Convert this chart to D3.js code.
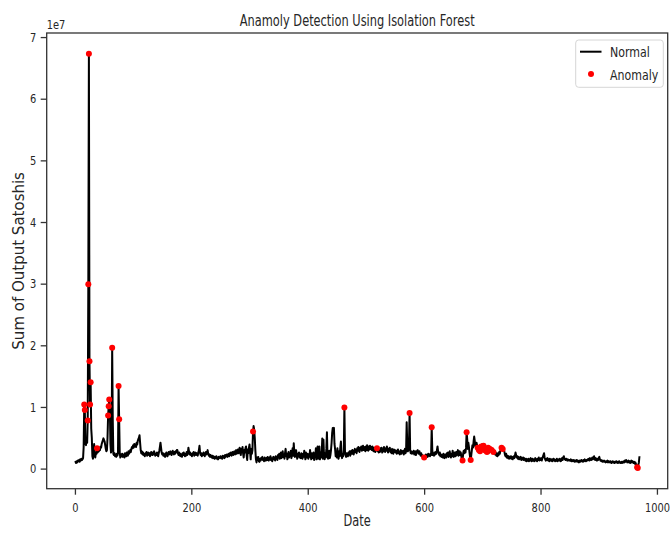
<!DOCTYPE html>
<html>
<head>
<meta charset="utf-8">
<script src="https://cdn.jsdelivr.net/npm/d3@7"></script>
<style>
  html, body { margin: 0; padding: 0; background: #fff; }
  svg text { font-family: "DejaVu Sans", sans-serif; fill: #262626; }
</style>
</head>
<body>
<svg id="chart" width="670" height="538"></svg>
<script>
// ---------------- DATA ----------------
// Sum of output satoshis per day, in millions (x 1e6); day index = position
const values = [
  1.0, 1.1, 0.9, 1.2, 1.0, 1.3, 1.2, 1.4, 1.1, 1.5,
  1.3, 1.6, 1.4, 1.5, 1.7, 3.5, 10.4, 9.5, 4.0, 3.8,
  5.0, 4.2, 7.8, 29.9, 67.3, 17.4, 10.4, 14.0, 6.5, 5.0,
  2.0, 1.6, 2.5, 4.0, 2.2, 1.8, 2.6, 2.4, 3.3, 2.6,
  3.0, 2.8, 3.2, 3.0, 3.6, 3.4, 4.0, 4.3, 4.6, 4.9,
  4.6, 4.4, 3.8, 3.2, 2.8, 3.0, 5.0, 8.6, 10.1, 11.2,
  9.8, 4.0, 2.6, 3.0, 19.6, 8.0, 2.4, 2.2, 2.5, 2.0,
  2.3, 1.9, 2.4, 2.1, 2.6, 13.4, 8.0, 2.5, 1.8, 2.2,
  2.0, 2.4, 1.9, 2.3, 2.1, 1.8, 2.5, 2.2, 2.0, 2.6,
  2.3, 2.1, 2.8, 2.4, 2.6, 3.0, 2.7, 3.2, 3.5, 3.3,
  3.8, 3.4, 4.0, 3.6, 3.9, 3.5, 4.2, 3.9, 4.5, 4.8,
  5.0, 5.4, 4.2, 3.0, 2.5, 2.8, 2.3, 2.6, 2.2, 2.4,
  2.0, 2.5, 2.3, 2.7, 2.1, 2.4, 2.6, 2.2, 2.5, 2.0,
  2.3, 2.7, 2.4, 2.2, 2.6, 2.3, 2.8, 2.5, 2.1, 2.4,
  2.2, 2.6, 2.3, 2.0, 2.5, 2.9, 3.5, 4.2, 3.4, 2.6,
  2.3, 2.5, 2.1, 2.4, 2.2, 1.9, 2.3, 2.6, 2.2, 2.0,
  2.4, 2.7, 2.3, 2.5, 2.8, 2.4, 2.2, 2.6, 2.9, 2.5,
  2.3, 2.7, 2.4, 2.8, 2.6, 3.0, 3.0, 2.5, 2.2, 2.6,
  2.1, 2.4, 2.0, 2.3, 1.9, 2.5, 2.2, 2.6, 2.3, 2.0,
  2.4, 2.1, 2.7, 2.2, 2.5, 3.4, 2.8, 2.3, 2.6, 2.2,
  2.4, 2.0, 2.5, 2.3, 2.7, 2.1, 2.4, 2.6, 2.2, 2.5,
  2.3, 2.1, 2.6, 3.0, 3.7, 2.6, 2.2, 2.5, 2.0, 2.4,
  2.2, 2.6, 2.3, 2.0, 2.4, 2.7, 2.3, 2.5, 3.0, 2.4,
  2.1, 2.3, 1.9, 2.2, 2.0, 1.8, 2.1, 1.7, 2.0, 1.8,
  1.6, 1.9, 1.7, 2.0, 1.6, 1.8, 1.5, 1.9, 1.7, 1.8,
  2.0, 1.7, 1.9, 1.6, 2.1, 1.8, 2.0, 1.7, 2.2, 1.9,
  2.1, 2.3, 1.9, 2.2, 2.4, 2.0, 2.5, 2.2, 2.6, 2.1,
  2.4, 2.7, 2.2, 2.5, 2.8, 2.3, 2.6, 3.0, 2.4, 2.7,
  3.1, 2.5, 2.9, 3.4, 2.6, 2.2, 3.2, 2.8, 3.5, 2.4,
  1.8, 3.0, 2.6, 3.3, 3.6, 2.2, 1.4, 3.1, 2.5, 3.4,
  3.9, 2.6, 1.5, 3.2, 2.4, 3.0, 6.0, 6.9, 6.3, 5.0,
  3.0, 1.5, 1.0, 1.8, 1.4, 1.9, 1.2, 1.1, 1.6, 1.3,
  1.7, 1.5, 1.9, 1.4, 1.6, 1.2, 1.8, 1.5, 1.3, 1.7,
  1.4, 1.9, 1.6, 1.3, 1.8, 1.5, 2.0, 1.4, 1.7, 1.2,
  1.6, 1.9, 1.5, 1.8, 1.3, 2.0, 1.6, 1.9, 1.4, 2.2,
  1.8, 2.4, 1.6, 2.0, 2.6, 1.7, 2.2, 2.8, 1.9, 2.3,
  1.6, 2.5, 3.2, 2.0, 2.4, 1.5, 2.2, 2.7, 1.8, 2.3,
  2.0, 2.9, 1.7, 2.4, 3.3, 2.1, 4.1, 2.6, 1.9, 2.5,
  3.0, 2.2, 1.6, 2.4, 2.0, 2.6, 1.8, 2.3, 1.7, 2.5,
  2.1, 1.6, 2.4, 1.9, 2.9, 2.2, 1.5, 2.6, 2.0, 1.8,
  2.4, 1.6, 2.2, 1.9, 3.0, 2.1, 1.5, 2.5, 2.0, 1.7,
  2.6, 1.4, 2.3, 1.9, 3.3, 1.5, 2.4, 3.6, 1.6, 2.2,
  3.6, 1.5, 2.6, 1.8, 2.4, 4.9, 1.6, 4.7, 2.0, 1.5,
  2.5, 1.8, 3.2, 5.9, 2.0, 1.6, 2.4, 2.9, 1.7, 2.2,
  3.0, 4.2, 5.8, 6.6, 6.4, 6.6, 4.0, 3.2, 2.0, 2.6,
  1.8, 3.3, 2.2, 1.6, 2.8, 2.0, 3.4, 4.4, 2.3, 1.7,
  2.4, 2.0, 3.0, 9.9, 2.8, 2.2, 1.9, 2.5, 2.2, 2.0,
  2.6, 2.3, 2.8, 2.1, 2.5, 2.9, 2.4, 3.0, 2.6, 2.3,
  2.8, 3.2, 2.7, 3.0, 2.5, 3.3, 2.9, 3.5, 3.0, 2.7,
  3.4, 3.1, 3.6, 2.9, 3.3, 3.7, 3.0, 3.5, 3.2, 2.8,
  3.6, 3.0, 3.8, 3.3, 2.9, 3.6, 3.1, 3.7, 3.2, 3.5,
  3.0, 3.6, 3.3, 2.8, 3.4, 3.1, 2.7, 3.2, 3.0, 3.3,
  2.8, 3.1, 2.6, 3.0, 2.7, 3.3, 2.9, 3.4, 2.6, 3.1,
  2.8, 3.5, 3.0, 2.7, 3.3, 2.9, 3.6, 3.1, 2.6, 3.2,
  2.9, 3.4, 2.7, 3.0, 2.5, 3.2, 2.8, 2.4, 3.1, 2.7,
  3.0, 2.6, 2.9, 2.4, 2.8, 3.1, 2.5, 2.8, 2.3, 2.7,
  3.0, 2.4, 2.8, 2.6, 2.9, 2.3, 2.7, 3.2, 2.5, 2.8,
  7.5, 4.0, 2.8, 3.0, 4.0, 9.0, 3.0, 2.5, 2.8, 2.4,
  2.7, 2.5, 2.9, 2.3, 2.6, 2.8, 2.2, 2.5, 2.9, 3.0,
  2.6, 2.4, 2.8, 2.3, 2.1, 2.5, 2.0, 2.2, 1.9, 1.8,
  1.8, 2.1, 1.9, 2.3, 2.0, 2.2, 1.9, 2.4, 2.1, 2.3,
  2.0, 2.4, 2.2, 6.7, 3.0, 2.2, 2.5, 2.1, 2.6, 2.3,
  2.7, 2.4, 3.0, 3.6, 2.8, 2.5, 2.2, 2.6, 2.0, 2.3,
  1.9, 2.2, 1.8, 2.4, 2.0, 1.7, 2.3, 2.1, 1.8, 2.5,
  2.0, 2.6, 1.9, 2.3, 2.8, 2.1, 1.8, 2.4, 2.0, 2.9,
  2.2, 1.9, 2.6, 2.3, 2.0, 2.7, 2.2, 2.5, 3.0, 2.1,
  2.4, 2.8, 2.2, 2.6, 1.9, 1.6, 1.3, 2.4, 2.9, 2.5,
  3.0, 2.6, 3.4, 5.9, 4.8, 3.2, 4.2, 3.5, 2.6, 1.8,
  1.4, 2.2, 3.0, 3.8, 3.4, 4.4, 5.2, 4.5, 3.6, 4.0,
  4.2, 3.8, 3.4, 3.6, 3.0, 3.3, 2.8, 3.2, 3.6, 3.9,
  3.5, 3.1, 3.7, 3.4, 3.0, 3.5, 2.9, 3.3, 2.7, 3.1,
  3.4, 3.0, 2.6, 3.2, 2.8, 3.4, 3.0, 2.6, 3.1, 2.7,
  2.5, 2.9, 2.3, 2.6, 2.1, 2.4, 2.0, 2.5, 2.2, 2.7,
  2.4, 2.9, 3.1, 3.4, 3.3, 3.2, 3.0, 3.1, 2.7, 2.2,
  2.0, 2.4, 1.8, 2.1, 1.7, 2.0, 1.6, 1.9, 1.7, 2.0,
  1.6, 1.9, 1.5, 1.8, 2.0, 1.7, 2.1, 2.6, 2.2, 1.8,
  2.0, 1.6, 1.9, 1.5, 1.8, 1.6, 1.9, 1.4, 1.7, 1.5,
  1.8, 1.4, 1.7, 1.5, 1.3, 1.6, 1.2, 1.5, 1.3, 1.6,
  1.2, 1.5, 1.3, 1.7, 1.4, 1.2, 1.6, 1.3, 1.5, 1.2,
  1.4, 1.7, 1.3, 1.5, 1.2, 1.6, 1.4, 1.8, 1.3, 1.5,
  1.4, 1.7, 1.3, 1.6, 1.9, 2.2, 2.5, 1.8, 1.5, 1.3,
  1.6, 1.4, 1.7, 1.3, 1.5, 1.2, 1.6, 1.4, 1.3, 1.5,
  1.2, 1.4, 1.6, 1.3, 1.5, 1.2, 1.4, 1.3, 1.6, 1.2,
  1.4, 1.5, 1.3, 1.6, 1.4, 1.2, 1.5, 1.7, 1.4, 1.8,
  2.0, 1.7, 1.5, 1.4, 1.6, 1.5, 1.3, 1.5, 1.4, 1.3,
  1.4, 1.3, 1.5, 1.2, 1.4, 1.3, 1.2, 1.4, 1.3, 1.1,
  1.3, 1.2, 1.4, 1.1, 1.3, 1.2, 1.0, 1.3, 1.1, 1.2,
  1.4, 1.2, 1.3, 1.1, 1.4, 1.2, 1.5, 1.3, 1.2, 1.4,
  1.3, 1.5, 1.4, 1.6, 1.3, 1.7, 1.5, 1.4, 1.6, 1.8,
  1.5, 1.7, 2.0, 1.6, 1.4, 1.7, 1.5, 1.3, 1.6, 1.4,
  1.7, 1.9, 1.5, 1.3, 1.4, 1.2, 1.3, 1.1, 1.2, 1.3,
  1.1, 1.2, 1.0, 1.2, 1.1, 1.3, 1.0, 1.2, 1.1, 1.0,
  1.2, 1.1, 0.9, 1.1, 1.2, 1.0, 1.1, 0.9, 1.1, 1.0,
  1.2, 1.0, 1.1, 0.9, 1.0, 1.2, 1.1, 0.9, 1.0, 1.1,
  0.9, 1.1, 1.0, 1.2, 1.0, 1.3, 1.1, 1.4, 1.2, 1.0,
  1.1, 1.3, 1.0, 1.2, 0.9, 1.1, 1.3, 1.0, 1.2, 1.1,
  0.9, 1.1, 0.8, 1.0, 0.7, 0.5, 0.2, 0.1, 0.6, 1.0,
  2.0
];
// Day indices flagged as anomalies by the Isolation Forest
const anomalyDays = [16, 17, 22, 23, 24, 25, 26, 27, 38, 57, 58, 59, 64, 75, 76,
  306, 463, 519, 575, 600, 613, 666, 673, 680,
  692, 694, 696, 698, 700, 702, 704, 706, 708, 710, 713, 716, 719, 733, 735,
  966, 967];
const valueUnit = 1e6;
const xTicks = [0, 200, 400, 600, 800, 1000];
const yTicks = [0, 1, 2, 3, 4, 5, 6, 7];   // in units of 1e7
const titleText = "Anamoly Detection Using Isolation Forest";
const xLabel = "Date";
const yLabel = "Sum of Output Satoshis";
const legendLabels = ["Normal", "Anomaly"];

// ---------------- LAYOUT ----------------
const SX = 0.76; // horizontal squeeze of the reference
const frame = {left: 46.7, right: 667.7, top: 33, bottom: 488.7};
const svg = d3.select("#chart");

const series = values.map((v, i) => ({day: i, value: v * valueUnit}));
const anomalies = anomalyDays.map(d => series[d]);

const xMin = 0, xMax = series.length - 1;
const xPad = (xMax - xMin) * 0.05;
const yMinV = d3.min(series, d => d.value), yMaxV = d3.max(series, d => d.value);
const yPad = (yMaxV - yMinV) * 0.05;

const x = d3.scaleLinear().domain([xMin - xPad, xMax + xPad]).range([frame.left, frame.right]);
const y = d3.scaleLinear().domain([yMinV - yPad, yMaxV + yPad]).range([frame.bottom, frame.top]);

const axisColor = "#333";

// line
const line = d3.line().x(d => x(d.day)).y(d => y(d.value));
svg.append("path").datum(series)
  .attr("d", line).attr("fill", "none")
  .attr("stroke", "#000").attr("stroke-width", 2)
  .attr("stroke-linejoin", "round");

// anomaly points
svg.append("g").selectAll("circle").data(anomalies).join("circle")
  .attr("cx", d => x(d.day)).attr("cy", d => y(d.value))
  .attr("r", 3).attr("fill", "#ff0000");

// frame
svg.append("rect")
  .attr("x", frame.left).attr("y", frame.top)
  .attr("width", frame.right - frame.left).attr("height", frame.bottom - frame.top)
  .attr("fill", "none").attr("stroke", axisColor).attr("stroke-width", 1.3);

// x axis
const gx = svg.append("g").attr("transform", `translate(0,${frame.bottom})`)
  .call(d3.axisBottom(x).tickValues(xTicks).tickFormat(d3.format("d")).tickSize(6).tickPadding(8));
gx.select(".domain").remove();
gx.selectAll(".tick line").attr("stroke", axisColor).attr("stroke-width", 1.3);
gx.selectAll(".tick text").attr("font-size", 13).attr("font-family", "DejaVu Sans")
  .attr("fill", "#262626").attr("transform", `scale(${SX},1)`);

// y axis
const gy = svg.append("g").attr("transform", `translate(${frame.left},0)`)
  .call(d3.axisLeft(y).tickValues(yTicks.map(t => t * 1e7)).tickFormat(d => d3.format("d")(d / 1e7)).tickSize(6).tickPadding(4.5));
gy.select(".domain").remove();
gy.selectAll(".tick line").attr("stroke", axisColor).attr("stroke-width", 1.3);
gy.selectAll(".tick text").attr("font-size", 13).attr("font-family", "DejaVu Sans")
  .attr("fill", "#262626")
  .attr("x", -10.5 / SX).attr("transform", `scale(${SX},1)`);

// helper for squeezed horizontal text
function sText(px, py, txt, size, anchor) {
  return svg.append("text")
    .attr("transform", `translate(${px},${py}) scale(${SX},1)`)
    .attr("text-anchor", anchor).attr("font-size", size).text(txt);
}

// offset text
sText(frame.left, 29, "1e7", 13, "start");
// title
sText((frame.left + frame.right) / 2, 25.5, titleText, 15, "middle");
// x label
sText((frame.left + frame.right) / 2, 526, xLabel, 15, "middle");
// y label
svg.append("text")
  .attr("transform", `translate(24,${(frame.top + frame.bottom) / 2}) rotate(-90)`)
  .attr("text-anchor", "middle").attr("font-size", 15).attr("fill", "#444").text(yLabel);

// legend
const lg = svg.append("g");
lg.append("rect").attr("x", 575.7).attr("y", 40).attr("width", 87.6).attr("height", 47.3)
  .attr("rx", 3).attr("fill", "#fff").attr("fill-opacity", 0.8)
  .attr("stroke", "#d6d6d6").attr("stroke-width", 1);
lg.append("line").attr("x1", 580).attr("x2", 601.5).attr("y1", 51.7).attr("y2", 51.7)
  .attr("stroke", "#000").attr("stroke-width", 2);
lg.append("circle").attr("cx", 591).attr("cy", 74).attr("r", 3).attr("fill", "#ff0000");
svg.append("text").attr("transform", `translate(610,57) scale(${SX},1)`)
  .attr("font-size", 14.5).text(legendLabels[0]);
svg.append("text").attr("transform", `translate(610,79.5) scale(${SX},1)`)
  .attr("font-size", 14.5).text(legendLabels[1]);
</script>
</body>
</html>
